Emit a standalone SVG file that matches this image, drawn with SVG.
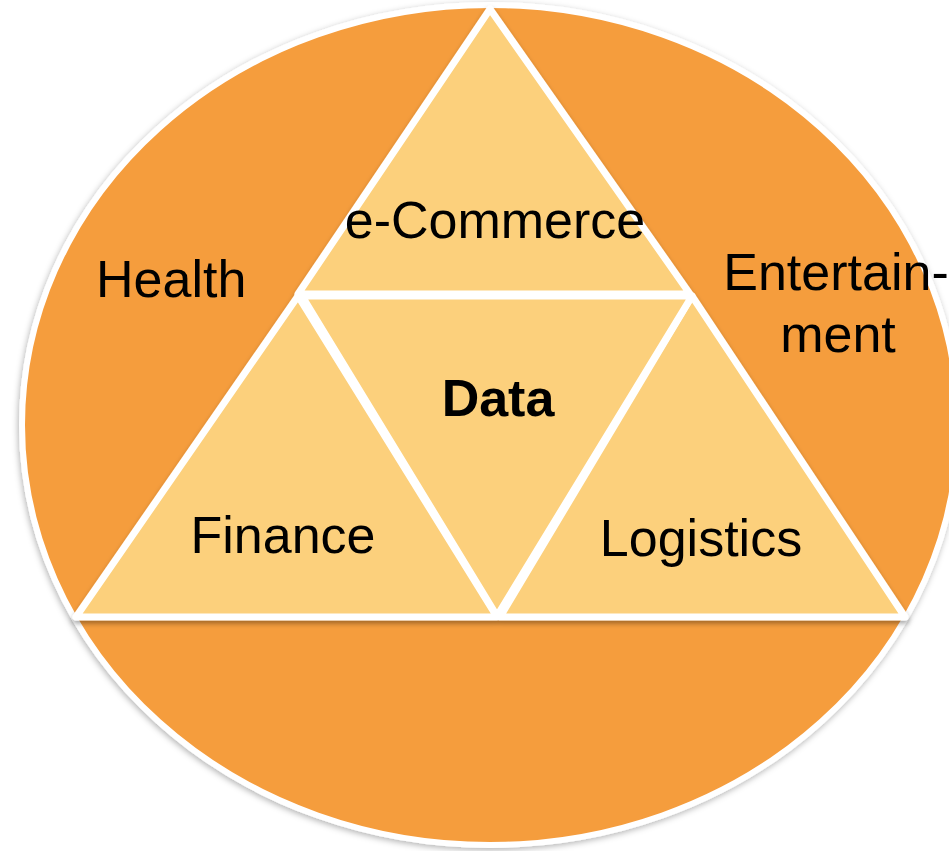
<svg xmlns="http://www.w3.org/2000/svg" width="949" height="851" viewBox="0 0 949 851">
  <defs>
    <filter id="sh" x="-10%" y="-10%" width="120%" height="120%">
      <feDropShadow dx="0" dy="3" stdDeviation="2.5" flood-color="#000" flood-opacity="0.35"/>
    </filter>
    <filter id="sh2" x="-10%" y="-10%" width="120%" height="120%">
      <feDropShadow dx="-1" dy="2" stdDeviation="3" flood-color="#000" flood-opacity="0.3"/>
    </filter>
  </defs>
  <style>
    .tri { fill: #FCD07C; stroke: #FFFFFF; stroke-width: 7; stroke-linejoin: round; }
    .lbl { font-family: "Liberation Sans", Arial, sans-serif; font-size: 52px; fill: #000000; }
    .bold { font-weight: bold; }
  </style>
  <rect width="949" height="851" fill="#FFFFFF"/>
  <g id="outer">
    <ellipse cx="490" cy="425" rx="468" ry="420" fill="#F59D3E" stroke="#FFFFFF" stroke-width="6" filter="url(#sh2)"/>
  </g>
  <g id="triangles" filter="url(#sh)">
    <g id="ecommerce"><polygon class="tri" points="490,9 298,294 690,294"/></g>
    <g id="finance"><polygon class="tri" points="298,296 76,617 497,617"/></g>
    <g id="logistics"><polygon class="tri" points="692,296 500,617 905,617"/></g>
    <g id="data"><polygon class="tri" points="302,296 692,296 497,616"/></g>
  </g>
  <g id="connectors"/>
  <g id="labels">
    <text class="lbl" x="96" y="297">Health</text>
    <text class="lbl" x="495" y="238" text-anchor="middle">e-Commerce</text>
    <text class="lbl" x="836" y="290" text-anchor="middle">Entertain-</text>
    <text class="lbl" x="838" y="352" text-anchor="middle">ment</text>
    <text class="lbl bold" x="498" y="416" text-anchor="middle">Data</text>
    <text class="lbl" x="283" y="553" text-anchor="middle">Finance</text>
    <text class="lbl" x="701" y="556" text-anchor="middle">Logistics</text>
  </g>
</svg>
